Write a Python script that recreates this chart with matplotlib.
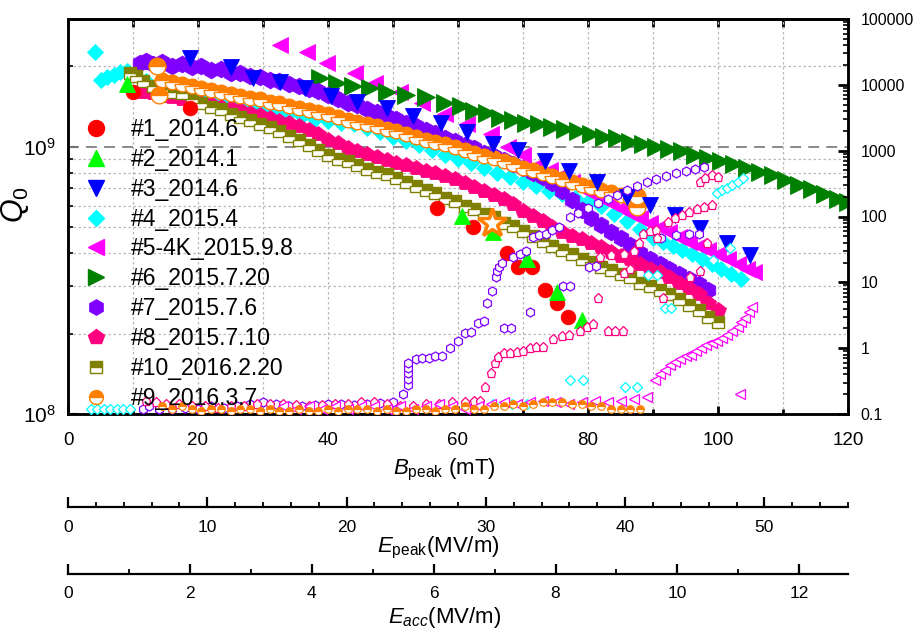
import numpy as np
import matplotlib
matplotlib.use('Agg')
import matplotlib.pyplot as plt
from matplotlib.lines import Line2D
from matplotlib.ticker import FixedLocator, FixedFormatter, MultipleLocator, NullFormatter

plt.rcParams['font.family'] = ['Liberation Sans', 'DejaVu Sans']
plt.rcParams['mathtext.fontset'] = 'custom'
plt.rcParams['mathtext.rm'] = 'Liberation Sans'
plt.rcParams['mathtext.it'] = 'Liberation Sans:italic'
plt.rcParams['mathtext.bf'] = 'Liberation Sans:bold'

# ---------------- Q0 data (Q0 in units of 1e8) vs Bpeak (mT) ----------------
B1 = [10, 18.8, 56.8, 62.3, 67.5, 69.2, 71.4, 73.4, 75.2, 76.9]
Q1 = [16.0, 14.0, 5.9, 5.0, 4.0, 3.55, 3.55, 2.9, 2.6, 2.3]

B2 = [9, 60.6, 65.4, 70.6, 75.2, 79]
Q2 = [17.2, 5.5, 4.8, 3.8, 2.85, 2.25]

B3 = [18.8, 25, 28.5, 32.6, 36.5, 40.5, 44.5, 49, 53, 57.4, 61.4, 65.4, 69.2, 73.4,
      77, 81.4, 86, 89.5, 93.4, 97.2, 101.4, 104.9]
Q3 = [21.5, 19.8, 18.0, 17.5, 16.5, 15.5, 14.7, 14.0, 13.0, 12.2, 11.3, 10.2, 9.7, 8.8,
      8.1, 7.4, 6.5, 6.05, 5.55, 4.97, 4.37, 3.94]

B4 = [4.2, 5, 6, 7, 8, 9, 12, 14, 16, 18, 20, 22, 24, 26, 28, 30, 32, 34, 36, 38, 40,
      42, 44, 46, 48, 50, 52, 54, 56, 58, 60, 62, 64, 66, 68, 70, 72, 74, 76, 78, 80,
      82, 84, 86, 88, 90, 91.5, 93, 94.5, 96, 97.5, 99, 100.5, 102, 103.5]
Q4 = [22.5, 17.8, 18.2, 18.6, 19.0, 19.2, 17.6, 17.1, 16.6, 16.2, 15.7, 15.3, 14.9,
      14.6, 14.3, 14.0, 13.6, 13.3, 13.0, 12.7, 12.5, 12.3, 12.1, 11.7, 11.3, 10.9,
      10.5, 10.1, 9.7, 9.3, 8.95, 8.65, 8.3, 8.0, 7.7, 7.4, 7.1, 6.85, 6.65, 6.4, 6.2,
      6.0, 5.6, 5.25, 4.9, 4.55, 4.4, 4.25, 4.1, 3.95, 3.8, 3.65, 3.5, 3.35, 3.2]

B5 = [32.6, 36.8, 39.8, 44.2, 47.2, 51, 54.5, 58, 61.4, 65, 67.7, 70, 72.3, 74.2,
      76, 77.5, 79, 80.5, 82, 83.5, 85, 86.5, 88, 89.5, 91, 92.5, 94, 95.5, 97, 98.5,
      100, 101.5, 103, 104.5, 105.5]
Q5 = [24.0, 22.5, 20.6, 18.9, 17.3, 16.0, 14.6, 13.2, 12.1, 11.1, 10.0, 9.3, 8.5, 8.2,
      7.8, 7.4, 7.0, 6.7, 6.4, 6.15, 5.9, 5.65, 5.4, 5.2, 5.0, 4.8, 4.6, 4.4, 4.25, 4.1,
      3.95, 3.8, 3.65, 3.5, 3.4]

B6 = [38.8, 41.4, 43.8, 46.5, 49, 52, 55, 58, 60.5, 62.5, 64.5, 66.5, 68.5, 70.5, 72.5,
      74.5, 76.5, 78.5, 80.5, 82.5, 84.5, 86.5, 88.5, 90.5, 92.5, 94.5, 96.5, 98.5,
      100.5, 102.5, 104.5, 106.5, 108.5, 110.5, 112.5, 114.5, 116.5, 118.5, 120]
Q6 = [18.0, 17.3, 16.8, 16.6, 16.0, 15.6, 15.3, 14.6, 14.2, 13.6, 13.3, 12.8, 12.6,
      12.3, 12.1, 11.8, 11.6, 11.4, 11.1, 10.9, 10.8, 10.4, 10.2, 10.0, 9.8, 9.6, 9.3,
      9.1, 8.85, 8.6, 8.3, 8.05, 7.8, 7.5, 7.2, 6.95, 6.65, 6.35, 6.2]

B7 = [11, 12, 13, 14.5, 16, 17.5, 19, 20.5, 22, 23.5, 25, 26.5, 28, 29.5, 31, 32.5, 34,
      35.5, 37, 38.5, 40, 41.5, 43, 44.5, 46, 47.5, 49, 50.5, 52, 53.5, 55, 56.5, 58,
      59.5, 61, 62.5, 64, 65.5, 67, 68.5, 70, 71.5, 73, 74.5, 76, 77.5, 79, 80.5, 82,
      83.5, 85, 86.5, 88, 89.5, 91, 92.5, 94, 95.5, 97, 98.5]
Q7 = [20.5, 20.9, 20.3, 20.7, 20.1, 20.4, 19.8, 20.0, 19.4, 19.5, 18.9, 18.9, 18.4,
      18.2, 17.8, 17.6, 17.1, 16.9, 16.4, 16.1, 15.6, 15.1, 14.6, 14.3, 13.8, 13.5,
      13.0, 12.7, 12.2, 11.9, 11.5, 11.2, 10.8, 10.5, 10.1, 9.85, 9.5, 9.2, 8.9, 8.6,
      8.3, 8.0, 7.7, 7.3, 6.8, 6.3, 5.8, 5.4, 5.1, 4.8, 4.55, 4.3, 4.0, 3.8, 3.65,
      3.5, 3.35, 3.2, 3.05, 2.9]

B8 = [11.5, 13, 14.5, 16, 17.5, 19, 20.5, 22, 23.5, 25, 26.5, 28, 29.5, 31, 32.5, 34,
      35.5, 37, 38.5, 40, 41.5, 43, 44.5, 46, 47.5, 49, 50.5, 52, 53.5, 55, 56.5, 58,
      59.5, 61, 62.5, 64, 65.5, 67, 68.5, 70, 71.5, 73, 74.5, 76, 77.5, 79, 80.5, 82,
      83.5, 85, 86.5, 88, 89.5, 91, 92.5, 94, 95.5, 97, 98.5, 100]
Q8 = [16.0, 15.8, 15.4, 15.3, 15.0, 14.8, 14.5, 14.4, 14.1, 13.9, 13.7, 13.4, 13.1,
      12.8, 12.5, 12.2, 11.9, 11.5, 11.1, 10.6, 10.3, 9.9, 9.6, 9.35, 9.15, 8.9, 8.7,
      8.5, 8.3, 8.1, 7.95, 7.75, 7.55, 7.3, 7.05, 6.8, 6.6, 6.35, 6.1, 5.75, 5.5, 5.25,
      5.0, 4.8, 4.65, 4.5, 4.35, 4.2, 4.05, 3.9, 3.8, 3.65, 3.5, 3.4, 3.25, 3.1, 2.95,
      2.8, 2.6, 2.45]

B10 = [9.5, 10.5, 11.5, 13, 14.5, 16, 17.5, 19, 20.5, 22, 23.5, 25, 26.5, 28, 29.5, 31,
       32.5, 34, 35.5, 37, 38.5, 40, 41.5, 43, 44.5, 46, 47.5, 49, 50.5, 52, 53.5, 55,
       56.5, 58, 59.5, 61, 62.5, 64, 65.5, 67, 68.5, 70, 71.5, 73, 74.5, 76, 77.5, 79,
       80.5, 82, 83.5, 85, 86.5, 88, 89.5, 91, 92.5, 94, 95.5, 97, 98.5, 100]
Q10 = [18.8, 18.3, 17.6, 16.9, 16.4, 16.0, 15.8, 15.0, 14.5, 14.1, 13.8, 13.2, 12.9,
       12.6, 12.1, 11.8, 11.4, 11.0, 10.6, 10.1, 9.7, 9.3, 9.0, 8.8, 8.5, 8.25, 8.05,
       7.9, 7.6, 7.4, 7.15, 6.9, 6.7, 6.45, 6.25, 6.0, 5.85, 5.6, 5.45, 5.2, 5.05, 4.85,
       4.65, 4.45, 4.25, 4.1, 3.95, 3.8, 3.7, 3.55, 3.45, 3.35, 3.25, 3.1, 3.0, 2.9,
       2.8, 2.7, 2.55, 2.45, 2.3, 2.2]

B9 = [14.5, 16, 17.5, 19, 20.5, 22, 23.5, 25, 26.5, 28, 29.5, 31, 32.5, 34, 35.5, 37,
      38.5, 40, 41.5, 43, 44.5, 46, 47.5, 49, 50.5, 52, 53.5, 55, 56.5, 58, 59.5, 61,
      62.5, 64, 65.5, 67, 68.5, 70, 71.5, 73, 74.5, 76, 77.5, 79, 80.5, 82, 83.5, 85, 86.5]
Q9 = [17.8, 17.5, 17.1, 16.8, 16.5, 16.3, 16.0, 15.7, 15.5, 15.2, 15.0, 14.7, 14.5,
      14.2, 14.0, 13.7, 13.5, 13.2, 12.9, 12.6, 12.4, 12.1, 11.9, 11.6, 11.4, 11.1,
      10.9, 10.6, 10.4, 10.2, 9.95, 9.7, 9.5, 9.25, 9.05, 8.8, 8.6, 8.35, 8.15, 7.95,
      7.75, 7.55, 7.4, 7.2, 7.05, 6.9, 6.75, 6.6, 6.45]
B9_big = [13.7, 14.0, 87.5, 87.5]
Q9_big = [20.0, 15.6, 6.55, 5.95]

B_star = [65.2]
Q_star = [5.2]

# ---------------- radiation data (right axis) vs Bpeak ----------------
B4r = [3.5, 4.5, 5.5, 6.5, 7.5, 8.5, 9.5, 65.4, 68.3, 70.6, 77.2, 79.2, 85.7, 87.5,
       89.2, 90.6, 91.8, 92.8, 99.2, 101.8, 99.8, 100.6, 101.4, 102.2, 103.0, 103.8]
R4 = [0.12, 0.12, 0.12, 0.12, 0.12, 0.12, 0.12, 0.14, 0.14, 0.14, 0.33, 0.33, 0.26, 0.26,
      13, 13, 4.1, 4.1, 22, 33, 230, 250, 275, 300, 340, 390]

B5r = [33, 35, 37, 39, 41, 43, 45, 47, 49, 51, 53, 55, 57, 59, 61, 63, 65, 67, 69, 71,
       73, 75, 77, 79, 81, 83, 85, 87, 89,
       90.3, 91.0, 91.8, 92.6, 93.4, 94.2, 95.0, 95.8, 96.6, 97.4, 98.2, 99.0, 99.8,
       100.6, 101.4, 102.2, 103.0, 103.6, 104.2, 104.8, 105.3, 103.4]
R5 = [0.13, 0.12, 0.13, 0.12, 0.13, 0.12, 0.13, 0.13, 0.12, 0.13, 0.12, 0.13, 0.14,
      0.13, 0.12, 0.13, 0.14, 0.15, 0.14, 0.15, 0.16, 0.15, 0.14, 0.15, 0.16, 0.15,
      0.16, 0.17, 0.18,
      0.33, 0.4, 0.47, 0.55, 0.62, 0.68, 0.75, 0.8, 0.9, 1.0, 1.1, 1.2, 1.3, 1.45, 1.6,
      1.8, 2.1, 2.5, 2.9, 3.5, 4.2, 0.2]

B7r = [11.5, 12.5, 14, 16, 18, 20, 22, 24, 26, 28, 30, 32, 34, 36, 38, 40, 42, 44, 46,
       48, 50, 51.5, 52.3, 52.3, 52.3, 52.3, 52.3,
       53.5, 54.5, 55.5, 56.5, 57.5, 58.8, 60, 61, 62, 63, 64, 64.5, 65.3, 65.8, 66,
       66.3, 66.8, 68.5, 69.5, 70.5, 71.5, 72.5, 73.5, 74.5, 75.5, 77.2, 78.5, 80,
       81.5, 83, 84.5, 86, 87.5, 89, 90.5, 92, 93.5, 95, 96.5, 97.8,
       67, 68.2, 71, 76.2, 77.2, 80.1, 81.2, 91.3, 93.5, 95.5, 97]
R7 = [0.12, 0.13, 0.12, 0.12, 0.125, 0.12, 0.13, 0.125, 0.13, 0.14, 0.15, 0.14, 0.13,
      0.13, 0.135, 0.14, 0.14, 0.135, 0.14, 0.145, 0.15, 0.2, 0.28, 0.34, 0.42, 0.5, 0.6,
      0.68, 0.72, 0.72, 0.75, 0.75, 1.0, 1.3, 1.7, 1.75, 2.4, 2.6, 4.8, 7.5, 12, 15,
      17, 20, 24, 27, 30, 48, 52, 55, 62, 70, 99, 115, 135,
      160, 185, 215, 250, 290, 330, 370, 410, 450, 490, 530, 565,
      2.0, 2.0, 3.5, 8.8, 8.8, 17, 18, 47, 52, 54, 55]

B8r = [12, 13.5, 15, 17, 19, 21, 23, 25, 27, 29, 31, 33, 35, 37, 39, 41, 43, 45, 47, 49,
       51, 53, 55, 57, 59, 61, 62.5,
       63.4, 64.2, 65, 65.7, 66.2, 67, 68, 69, 70, 71, 72, 73, 74.6, 76, 77, 78.8, 79.8,
       80.8, 83, 84.2, 85.4, 81.5, 85.6, 86.4, 81.8, 83.5, 85.5, 87, 87.8, 88.5, 89.5,
       90.5, 90.6, 91.5, 95.7, 97.2, 98.3, 92.3, 93.4, 94.5, 95.6, 96.7, 97.8, 99.1,
       97.2, 98, 99, 100]
R8 = [0.16, 0.15, 0.14, 0.14, 0.13, 0.13, 0.125, 0.13, 0.13, 0.14, 0.14, 0.14, 0.135,
      0.13, 0.135, 0.14, 0.14, 0.15, 0.15, 0.14, 0.13, 0.13, 0.14, 0.14, 0.15, 0.15, 0.16,
      0.16, 0.26, 0.42, 0.6, 0.73, 0.84, 0.84, 0.87, 0.9, 1.0, 1.05, 1.05, 1.4, 1.55,
      1.6, 1.8, 2.1, 2.3, 1.8, 1.8, 1.8, 5.8, 14, 16, 24, 26, 27, 30, 40, 55, 60, 62,
      47, 5.8, 12, 15, 40, 83, 95, 105, 118, 130, 140, 150, 330, 380, 430, 400]

B9r = [14.5, 16, 17.5, 19, 20.5, 22, 23.5, 25, 26.5, 28, 29.5, 31, 32.5, 34, 35.5, 37,
       38.5, 40, 41.5, 43, 44.5, 46, 47.5, 49, 50.5, 52, 53.5, 55, 56.5, 58, 59.5, 61,
       62.5, 64, 65.5, 67, 68.5, 70, 71.5, 73, 74.5, 76, 77.5, 79, 80.5, 82, 83.5, 85,
       86.5, 88]
R9 = [0.13, 0.12, 0.13, 0.12, 0.11, 0.12, 0.12, 0.11, 0.12, 0.12, 0.11, 0.12, 0.11,
      0.11, 0.12, 0.11, 0.11, 0.12, 0.11, 0.12, 0.12, 0.12, 0.11, 0.12, 0.11, 0.11,
      0.12, 0.12, 0.11, 0.12, 0.12, 0.13, 0.12, 0.12, 0.13, 0.13, 0.14, 0.13, 0.14,
      0.15, 0.15, 0.15, 0.14, 0.14, 0.13, 0.13, 0.12, 0.12, 0.12, 0.12]

LABELS = ['#1_2014.6', '#2_2014.1', '#3_2014.6', '#4_2015.4', '#5-4K_2015.9.8',
          '#6_2015.7.20', '#7_2015.7.6', '#8_2015.7.10', '#10_2016.2.20', '#9_2016.3.7']
COLORS = ['#FF0000', '#00FF00', '#0000FF', '#00FFFF', '#FF00FF',
          '#008000', '#8000FF', '#FF0080', '#808000', '#FF8000']
MARKERS = ['o', '^', 'v', 'D', '<', '>', 'h', 'p', 's', 'o']

R_TICKS = [0.1, 1, 10, 100, 1000, 10000, 100000]
R_TICKLABELS = ['0.1', '1', '10', '100', '1000', '10000', '100000']
B_MAX = 120
EPEAK_MAX = 56.0
EACC_MAX = 12.8

# ---------------- figure ----------------
W, H = 916, 633
fig = plt.figure(figsize=(W / 100, H / 100), dpi=100)


def fx(px):
    return px / W


def fy(py):
    return 1 - py / H


AX_L, AX_R, AX_T, AX_B = 68, 848, 19, 414
ax = fig.add_axes([fx(AX_L), fy(AX_B), (AX_R - AX_L) / W, (AX_B - AX_T) / H])
ax.set_xlim(0, B_MAX)
ax.set_yscale('log')
ax.set_ylim(1e8, 3.0e9)

ax2 = ax.twinx()
ax2.set_yscale('log')
ax2.set_ylim(0.1, 1e5)

# grid
grid_kw = dict(color='#b9b9b9', lw=0.9, ls=(0, (2, 2)))
ax.xaxis.set_major_locator(MultipleLocator(20))
ax.xaxis.set_minor_locator(MultipleLocator(10))
ax.grid(which='both', axis='x', **grid_kw)
ax.yaxis.set_major_locator(FixedLocator([1e8, 1e9]))
ax.yaxis.set_major_formatter(FixedFormatter([r'$10^{8}$', r'$10^{9}$']))
ax.yaxis.set_minor_locator(FixedLocator([k * 1e8 for k in range(2, 10)] + [2e9]))
ax.yaxis.set_minor_formatter(NullFormatter())
ax.grid(which='minor', axis='y', **grid_kw)
ax.axhline(1e9, color='#808080', lw=1.3, ls=(0, (6, 4)), zorder=1.5)
ax.set_axisbelow(True)

# ticks
ax.tick_params(axis='x', which='major', direction='in', length=6, width=2,
               labelsize=13.5, pad=13, top=False)
ax.tick_params(axis='x', which='minor', direction='in', length=3.5, width=2, top=False)
ax.tick_params(axis='y', which='major', direction='in', length=7, width=1.5,
               labelsize=15, pad=9, right=False)
ax.tick_params(axis='y', which='minor', direction='in', length=3.5, width=1.2, right=False)
secx = ax.secondary_xaxis('top')
secx.set_xticks(np.arange(0, B_MAX + 1, 10))
secx.set_xticklabels([])
secx.tick_params(direction='in', length=6, width=2)

ax2.yaxis.set_major_locator(FixedLocator(R_TICKS))
ax2.yaxis.set_major_formatter(FixedFormatter(R_TICKLABELS))
ax2.yaxis.set_minor_locator(FixedLocator(
    [k * 10.0 ** e for e in range(-1, 5) for k in range(2, 10)]))
ax2.yaxis.set_minor_formatter(NullFormatter())
ax2.tick_params(axis='y', which='major', direction='in', length=7, width=2,
                labelsize=11.5, pad=9)
ax2.tick_params(axis='y', which='minor', direction='in', length=3.5, width=1.2)

for a in (ax, ax2):
    for s in a.spines.values():
        s.set_linewidth(1.8)
secx.spines['top'].set_linewidth(1.8)

# ---------------- Q0 series ----------------
def q0(ax_, B, Q, i, ms, z, **kw):
    c = COLORS[i]
    ax_.plot(B, np.array(Q) * 1e8, ls='none', marker=MARKERS[i], ms=ms,
             mfc=c, mec=c, mew=0.6, zorder=z, **kw)


q0(ax, B4, Q4, 3, 8, 3.0)
q0(ax, B5, Q5, 4, 12, 3.1)
q0(ax, B6, Q6, 5, 13, 3.2)
q0(ax, B7, Q7, 6, 12, 3.3)
q0(ax, B8, Q8, 7, 11.5, 3.4)
ax.plot(B10, np.array(Q10) * 1e8, ls='none', marker='s', ms=9, mfc=COLORS[8],
        mec=COLORS[8], mew=1.0, fillstyle='top', markerfacecoloralt='white', zorder=3.5)
ax.plot(B9, np.array(Q9) * 1e8, ls='none', marker='o', ms=10.5, mfc=COLORS[9],
        mec=COLORS[9], mew=1.0, fillstyle='top', markerfacecoloralt='white', zorder=3.6)
ax.plot(B9_big, np.array(Q9_big) * 1e8, ls='none', marker='o', ms=12, mfc=COLORS[9],
        mec=COLORS[9], mew=1.0, fillstyle='top', markerfacecoloralt='white', zorder=3.65)
q0(ax, B1, Q1, 0, 10.5, 3.7)
q0(ax, B2, Q2, 1, 11.5, 3.8)
q0(ax, B3, Q3, 2, 12, 3.9)
ax.plot(B_star, np.array(Q_star) * 1e8, ls='none', marker='*', ms=21, mfc='white',
        mec=COLORS[9], mew=2.5, zorder=4)

# ---------------- radiation series (open markers) ----------------
def rad(B, R, i, ms=6.5, z=3):
    c = COLORS[i]
    ax2.plot(B, R, ls='none', marker=MARKERS[i], ms=ms, mfc='white', mec=c,
             mew=0.9, zorder=z)


rad(B7r, R7, 6, 6.5, 3.0)
rad(B8r, R8, 7, 6.5, 3.1)
rad(B4r, R4, 3, 5.5, 3.2)
rad(B5r, R5, 4, 6.5, 3.3)
ax2.plot(B9r, R9, ls='none', marker='o', ms=5.5, mfc=COLORS[9], mec=COLORS[9],
         mew=0.8, fillstyle='top', markerfacecoloralt='white', zorder=3.4)

# ---------------- legend ----------------
handles = []
leg_ms = [11.5, 12, 12, 8.5, 12, 12, 11, 11.5, 8.5, 10]
for i, lab in enumerate(LABELS):
    kw = {}
    if i in (8, 9):
        kw = dict(fillstyle='top', markerfacecoloralt='white')
    handles.append(Line2D([], [], ls='none', marker=MARKERS[i], ms=leg_ms[i],
                          mfc=COLORS[i], mec=COLORS[i], mew=1.0, **kw))
leg = ax2.legend(handles, LABELS, loc='upper left', bbox_to_anchor=(fx(82), fy(118)),
                 bbox_transform=fig.transFigure, frameon=False, fontsize=16.5,
                 labelspacing=0.3, handlelength=1.2, handletextpad=0.95,
                 borderpad=0, borderaxespad=0)
leg.set_zorder(10)

# ---------------- labels ----------------
fig.text(fx(15), fy(205), r'$Q_0$', rotation=90, fontsize=22, ha='center', va='center')
fig.text(fx(444), fy(470), r'$B_{\mathrm{peak}}$ (mT)', fontsize=16, ha='center',
         va='center')

# ---------------- extra scales: Epeak and Eacc ----------------
def extra_axis(py, xmax, major, minor):
    a = fig.add_axes([fx(AX_L), fy(py), (AX_R - AX_L) / W, 0.0001])
    a.set_xlim(0, xmax)
    a.set_ylim(0, 1)
    a.patch.set_visible(False)
    for s in ('top', 'left', 'right'):
        a.spines[s].set_visible(False)
    a.spines['bottom'].set_linewidth(1.6)
    a.set_yticks([])
    a.xaxis.set_major_locator(MultipleLocator(major))
    a.xaxis.set_minor_locator(MultipleLocator(minor))
    a.tick_params(axis='x', which='major', direction='in', length=7, width=1.6,
                  labelsize=12.5, pad=9)
    a.tick_params(axis='x', which='minor', direction='in', length=3.5, width=1.3)
    return a


axE = extra_axis(507, EPEAK_MAX, 10, 2)
axA = extra_axis(574, EACC_MAX, 2, 1)
fig.text(fx(438), fy(548), r'$E_{\mathrm{peak}}$(MV/m)', fontsize=16, ha='center',
         va='center')
fig.text(fx(445), fy(617), r'$E_{acc}$(MV/m)', fontsize=16, ha='center', va='center')

fig.savefig('out.png', dpi=100)
